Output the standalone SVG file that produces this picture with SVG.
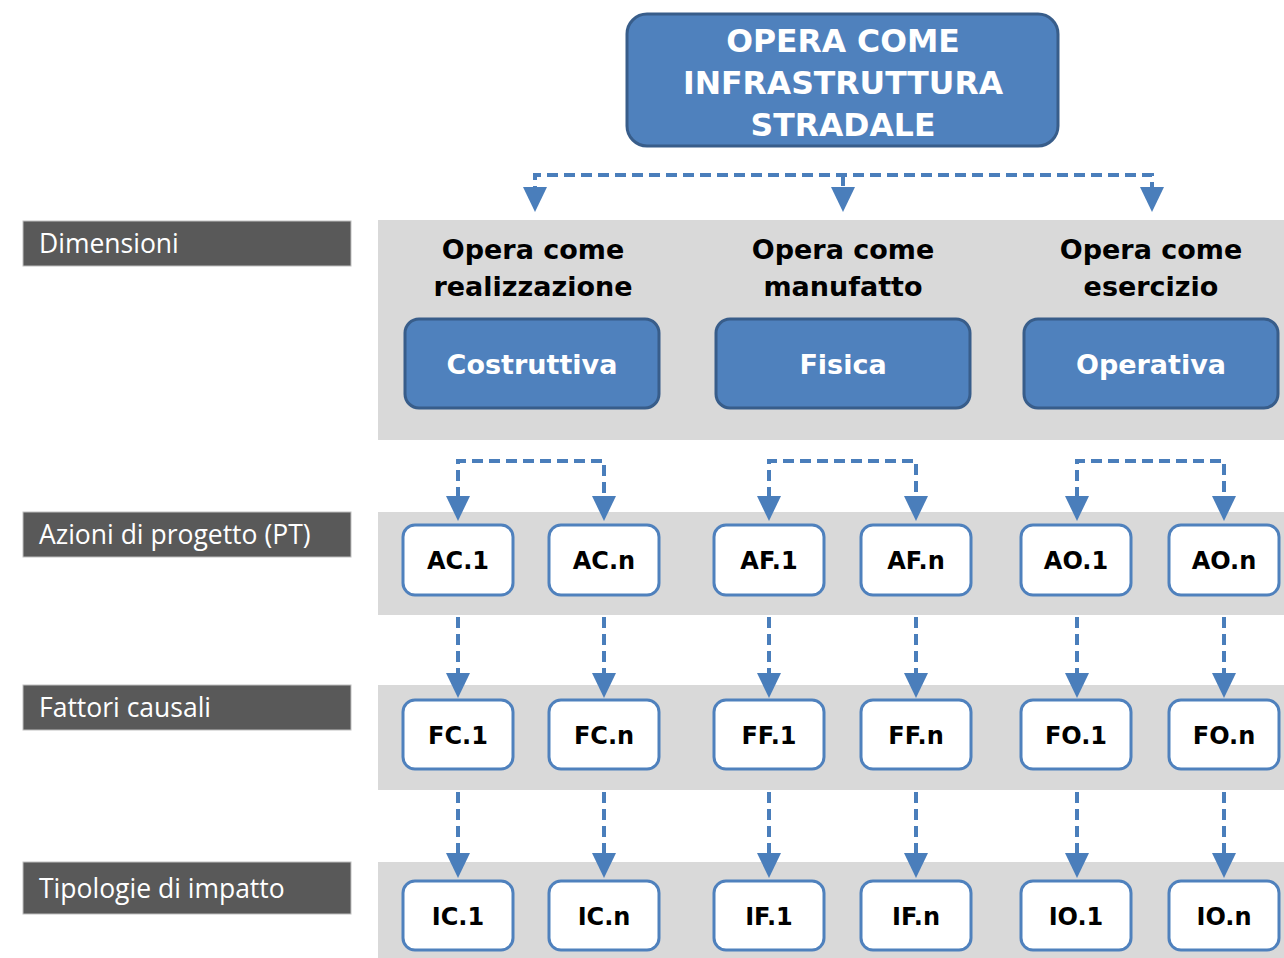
<svg xmlns="http://www.w3.org/2000/svg" width="1284" height="958" viewBox="0 0 1284 958">
<style>
.panel{fill:#d9d9d9}
.lab{fill:#595959;stroke:#bfbfbf;stroke-width:1}
.labt{font-family:"Open Sans","Liberation Sans",sans-serif;font-size:26.5px;fill:#fff}
.big{fill:#4f81bd;stroke:#385d8a;stroke-width:3}
.bigt{font-family:Verdana,"DejaVu Sans",sans-serif;font-weight:bold;fill:#fff;text-anchor:middle}
.hd{font-family:Verdana,"DejaVu Sans",sans-serif;font-weight:bold;font-size:27px;fill:#000;text-anchor:middle}
.sm{fill:#fff;stroke:#4f81bd;stroke-width:3}
.smt{font-family:Verdana,"DejaVu Sans",sans-serif;font-weight:bold;font-size:24px;fill:#000;text-anchor:middle}
.c{fill:none;stroke:#4a7ebb;stroke-width:4;stroke-dasharray:11 6}
.ah{fill:#4a7ebb}
</style>
<rect width="1284" height="958" fill="#fff"/>
<g id="panels">
<rect class="panel" x="378" y="220" width="906" height="220"/>
<rect class="panel" x="378" y="512" width="906" height="103"/>
<rect class="panel" x="378" y="685" width="906" height="105"/>
<rect class="panel" x="378" y="862" width="906" height="96"/>
</g>
<g id="label-dimensioni"><rect class="lab" x="23" y="221" width="328" height="45"/><text class="labt" x="39" y="253">Dimensioni</text></g>
<g id="label-azioni"><rect class="lab" x="23" y="512" width="328" height="45"/><text class="labt" x="39" y="544">Azioni di progetto (PT)</text></g>
<g id="label-fattori"><rect class="lab" x="23" y="685" width="328" height="45"/><text class="labt" x="39" y="717">Fattori causali</text></g>
<g id="label-tipologie"><rect class="lab" x="23" y="862" width="328" height="52"/><text class="labt" x="39" y="898">Tipologie di impatto</text></g>
<g id="top"><rect class="big" x="627" y="14" width="431" height="132" rx="20"/>
<text class="bigt" font-size="31.5" x="843" y="52">OPERA COME</text>
<text class="bigt" font-size="31.5" x="843" y="94">INFRASTRUTTURA</text>
<text class="bigt" font-size="31.5" x="843" y="136">STRADALE</text></g>
<g id="hd1"><text class="hd" x="533" y="259">Opera come</text><text class="hd" x="533" y="296">realizzazione</text></g>
<g id="hd2"><text class="hd" x="843" y="259">Opera come</text><text class="hd" x="843" y="296">manufatto</text></g>
<g id="hd3"><text class="hd" x="1151" y="259">Opera come</text><text class="hd" x="1151" y="296">esercizio</text></g>
<g id="costruttiva"><rect class="big" x="405" y="319" width="254" height="89" rx="14"/><text class="bigt" font-size="27" x="532" y="374">Costruttiva</text></g>
<g id="fisica"><rect class="big" x="716" y="319" width="254" height="89" rx="14"/><text class="bigt" font-size="27" x="843" y="374">Fisica</text></g>
<g id="operativa"><rect class="big" x="1024" y="319" width="254" height="89" rx="14"/><text class="bigt" font-size="27" x="1151" y="374">Operativa</text></g>
<g id="connectors">
<path class="c" d="M535 197 V175 H1152 V197 M843 175 V197"/>
<polygon class="ah" points="523,187 547,187 535,212"/>
<polygon class="ah" points="831,187 855,187 843,212"/>
<polygon class="ah" points="1140,187 1164,187 1152,212"/>
<path class="c" d="M458 498 V461 H604 V498"/>
<path class="c" d="M769 498 V461 H916 V498"/>
<path class="c" d="M1077 498 V461 H1224 V498"/>
<g>
<polygon class="ah" points="446,496 470,496 458,521"/>
<polygon class="ah" points="592,496 616,496 604,521"/>
<polygon class="ah" points="757,496 781,496 769,521"/>
<polygon class="ah" points="904,496 928,496 916,521"/>
<polygon class="ah" points="1065,496 1089,496 1077,521"/>
<polygon class="ah" points="1212,496 1236,496 1224,521"/>
</g>
<path class="c" d="M458 617 V675 M604 617 V675 M769 617 V675 M916 617 V675 M1077 617 V675 M1224 617 V675"/>
<g>
<polygon class="ah" points="446,673 470,673 458,698"/>
<polygon class="ah" points="592,673 616,673 604,698"/>
<polygon class="ah" points="757,673 781,673 769,698"/>
<polygon class="ah" points="904,673 928,673 916,698"/>
<polygon class="ah" points="1065,673 1089,673 1077,698"/>
<polygon class="ah" points="1212,673 1236,673 1224,698"/>
</g>
<path class="c" d="M458 792 V855 M604 792 V855 M769 792 V855 M916 792 V855 M1077 792 V855 M1224 792 V855"/>
<g>
<polygon class="ah" points="446,853 470,853 458,878"/>
<polygon class="ah" points="592,853 616,853 604,878"/>
<polygon class="ah" points="757,853 781,853 769,878"/>
<polygon class="ah" points="904,853 928,853 916,878"/>
<polygon class="ah" points="1065,853 1089,853 1077,878"/>
<polygon class="ah" points="1212,853 1236,853 1224,878"/>
</g>
</g>
<g id="AC1"><rect class="sm" x="403" y="525" width="110" height="70" rx="12"/><text class="smt" x="458" y="569">AC.1</text></g>
<g id="ACn"><rect class="sm" x="549" y="525" width="110" height="70" rx="12"/><text class="smt" x="604" y="569">AC.n</text></g>
<g id="AF1"><rect class="sm" x="714" y="525" width="110" height="70" rx="12"/><text class="smt" x="769" y="569">AF.1</text></g>
<g id="AFn"><rect class="sm" x="861" y="525" width="110" height="70" rx="12"/><text class="smt" x="916" y="569">AF.n</text></g>
<g id="AO1"><rect class="sm" x="1021" y="525" width="110" height="70" rx="12"/><text class="smt" x="1076" y="569">AO.1</text></g>
<g id="AOn"><rect class="sm" x="1169" y="525" width="110" height="70" rx="12"/><text class="smt" x="1224" y="569">AO.n</text></g>
<g id="FC1"><rect class="sm" x="403" y="700" width="110" height="69" rx="12"/><text class="smt" x="458" y="744">FC.1</text></g>
<g id="FCn"><rect class="sm" x="549" y="700" width="110" height="69" rx="12"/><text class="smt" x="604" y="744">FC.n</text></g>
<g id="FF1"><rect class="sm" x="714" y="700" width="110" height="69" rx="12"/><text class="smt" x="769" y="744">FF.1</text></g>
<g id="FFn"><rect class="sm" x="861" y="700" width="110" height="69" rx="12"/><text class="smt" x="916" y="744">FF.n</text></g>
<g id="FO1"><rect class="sm" x="1021" y="700" width="110" height="69" rx="12"/><text class="smt" x="1076" y="744">FO.1</text></g>
<g id="FOn"><rect class="sm" x="1169" y="700" width="110" height="69" rx="12"/><text class="smt" x="1224" y="744">FO.n</text></g>
<g id="IC1"><rect class="sm" x="403" y="881" width="110" height="69" rx="12"/><text class="smt" x="458" y="925">IC.1</text></g>
<g id="ICn"><rect class="sm" x="549" y="881" width="110" height="69" rx="12"/><text class="smt" x="604" y="925">IC.n</text></g>
<g id="IF1"><rect class="sm" x="714" y="881" width="110" height="69" rx="12"/><text class="smt" x="769" y="925">IF.1</text></g>
<g id="IFn"><rect class="sm" x="861" y="881" width="110" height="69" rx="12"/><text class="smt" x="916" y="925">IF.n</text></g>
<g id="IO1"><rect class="sm" x="1021" y="881" width="110" height="69" rx="12"/><text class="smt" x="1076" y="925">IO.1</text></g>
<g id="IOn"><rect class="sm" x="1169" y="881" width="110" height="69" rx="12"/><text class="smt" x="1224" y="925">IO.n</text></g>
</svg>
